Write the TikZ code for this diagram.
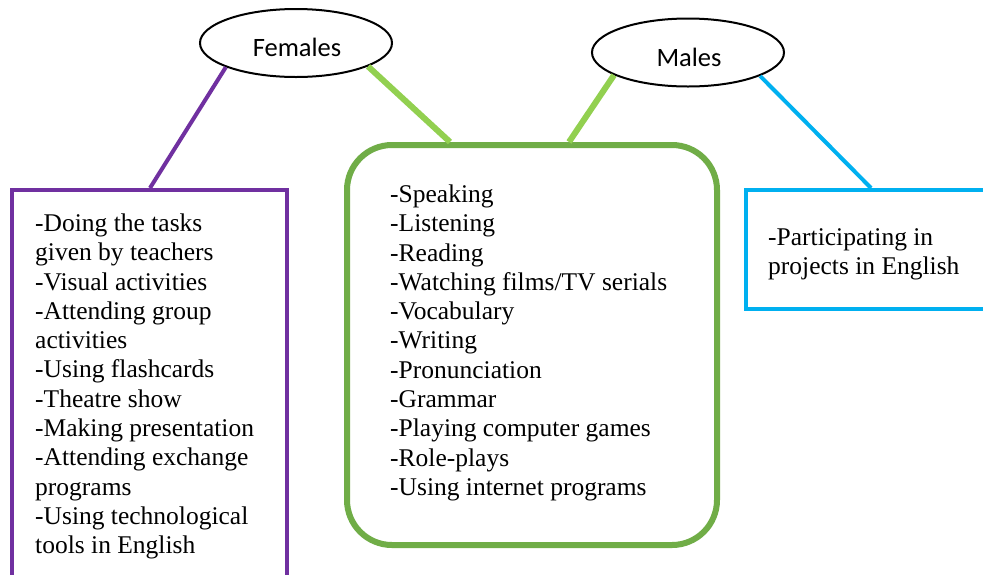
\documentclass[tikz,border=0pt]{standalone}
\usepackage{fontspec}
\setmainfont{Liberation Serif}
\newfontfamily\calib{Carlito}
\usetikzlibrary{shapes.geometric}
\definecolor{fpurple}{HTML}{7030A0}
\definecolor{gdark}{HTML}{70AD47}
\definecolor{glight}{HTML}{92D050}
\definecolor{mblue}{HTML}{00B0F0}
\begin{document}
\begin{tikzpicture}[x=1pt,y=-1pt,
  oval/.style={ellipse,draw=black,line width=2pt,fill=white,inner sep=0pt,
    minimum width=192pt,minimum height=68pt},
  ovaltext/.style={inner sep=0pt,font=\calib\fontsize{26.5}{30}\selectfont},
  listtext/.style={anchor=north west,align=left,inner sep=0pt,
    font=\fontsize{25.5}{29.3}\selectfont},
  purpleline/.style={draw=fpurple,line width=4pt},
  greenline/.style={draw=glight,line width=6pt},
  blueline/.style={draw=mblue,line width=4pt}]
\clip (0,0) rectangle (983,574);
\fill[white] (0,0) rectangle (983,574);
% boxes
\node[draw=fpurple,line width=4pt,minimum width=275pt,minimum height=400pt,inner sep=0pt] (fbox) at (149.5,390) {};
\node[draw=gdark,line width=6pt,rounded corners=45pt,minimum width=370pt,minimum height=400pt,inner sep=0pt] (gbox) at (532,345) {};
\node[draw=mblue,line width=4pt,minimum width=254pt,minimum height=119pt,inner sep=0pt] (mbox) at (873,249.5) {};
% ellipses
\node[oval] (fem) at (296,43) {};
\node[oval] (mal) at (688,52.5) {};
\node[ovaltext] (femtext) at ([yshift=-4pt,xshift=1pt]fem.center) {Females};
\node[ovaltext] (maltext) at ([yshift=-5pt,xshift=1pt]mal.center) {Males};
% connectors
\draw[purpleline] (fem.199) -- ([xshift=0.5pt]fbox.north);
\draw[greenline] (fem.-18) -- ([xshift=-82pt]gbox.north);
\draw[greenline] (mal.197) -- ([xshift=37pt]gbox.north);
\draw[blueline] (mal.-18) -- ([xshift=-2pt]mbox.north);
% texts
\node[listtext] (ftext) at (35,213.5) {-Doing the tasks\\given by teachers\\-Visual activities\\-Attending group\\activities\\-Using flashcards\\-Theatre show\\-Making presentation\\-Attending exchange\\programs\\-Using technological\\tools in English};
\node[listtext] (gtext) at (390,184.5) {-Speaking\\-Listening\\-Reading\\-Watching films/TV serials\\-Vocabulary\\-Writing\\-Pronunciation\\-Grammar\\-Playing computer games\\-Role-plays\\-Using internet programs};
\node[listtext] (mtext) at (768,228) {-Participating in\\projects in English};
\end{tikzpicture}
\end{document}
